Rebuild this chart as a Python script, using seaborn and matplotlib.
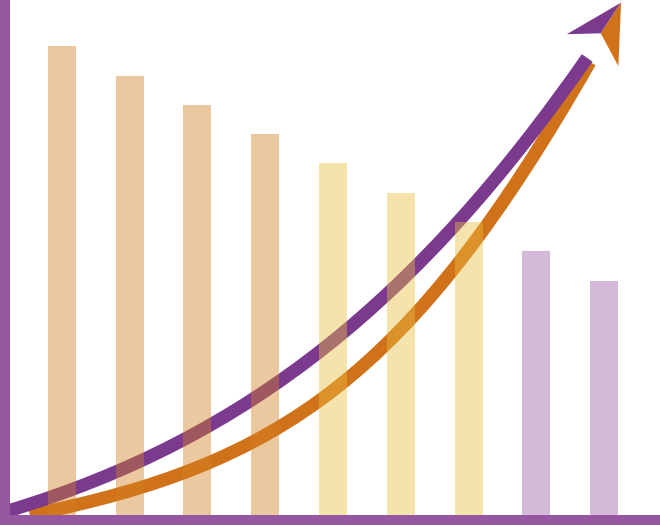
import matplotlib
matplotlib.use("Agg")
import matplotlib.pyplot as plt
from matplotlib.path import Path
from matplotlib.patches import PathPatch, Polygon
import seaborn as sns
import pandas as pd

# ---- data ----
categories = ["1", "2", "3", "4", "5", "6", "7", "8", "9"]
values = [16, 15, 14, 13, 12, 11, 10, 9, 8]
bar_colors = ["#D38124", "#D38124", "#D38124", "#D38124",
              "#EABE42", "#EABE42", "#EABE42",
              "#9D61A6", "#9D61A6"]

# rising curves (cubic Bezier control points, in data units)
purple_x = [-0.79, 2.78, 5.29, 7.75]
purple_y = [0.14, 2.63, 7.44, 15.60]
orange_x = [-0.47, 3.22, 5.14, 7.79]
orange_y = [0.00, 1.71, 4.71, 15.46]

# split arrowhead: tip, left wing, notch, right wing
head_x = [8.25, 7.45, 7.95, 8.21]
head_y = [17.49, 16.41, 16.44, 15.32]

PURPLE = "#7B3A8E"
ORANGE = "#D07219"
AXIS = "#9558A0"

sns.set_theme(style="white")
fig = plt.figure(figsize=(6.6, 5.25), dpi=100)
ax = fig.add_axes([0, 0, 1, 1])

df = pd.DataFrame({"cat": categories, "val": values})

# curves first (underneath the translucent bars)
codes = [Path.MOVETO, Path.CURVE4, Path.CURVE4, Path.CURVE4]
orange_path = Path(list(zip(orange_x, orange_y)), codes)
purple_path = Path(list(zip(purple_x, purple_y)), codes)
ax.add_patch(PathPatch(orange_path, fill=False, edgecolor=ORANGE,
                       linewidth=9.4, capstyle="butt", zorder=1))
ax.add_patch(PathPatch(purple_path, fill=False, edgecolor=PURPLE,
                       linewidth=9.4, capstyle="butt", zorder=1.1))

# arrowhead halves
ax.add_patch(Polygon([(head_x[0], head_y[0]), (head_x[1], head_y[1]),
                      (head_x[2], head_y[2])], closed=True,
                     facecolor=PURPLE, edgecolor="none", zorder=1.2))
ax.add_patch(Polygon([(head_x[0], head_y[0]), (head_x[2], head_y[2]),
                      (head_x[3], head_y[3])], closed=True,
                     facecolor=ORANGE, edgecolor="none", zorder=1.2))

sns.barplot(data=df, x="cat", y="val", hue="cat", palette=bar_colors,
            legend=False, width=0.413, alpha=0.43, linewidth=0,
            saturation=1, ax=ax, zorder=2)

ax.set_xlim(-0.910, 8.824)
ax.set_ylim(-0.341, 17.577)
ax.set_xticks([])
ax.set_yticks([])
ax.set_xlabel("")
ax.set_ylabel("")

for side in ["top", "right"]:
    ax.spines[side].set_visible(False)
for side in ["left", "bottom"]:
    ax.spines[side].set_color(AXIS)
    ax.spines[side].set_linewidth(14.4)
    ax.spines[side].set_zorder(5)

fig.savefig("out.png", dpi=100, facecolor="white")
